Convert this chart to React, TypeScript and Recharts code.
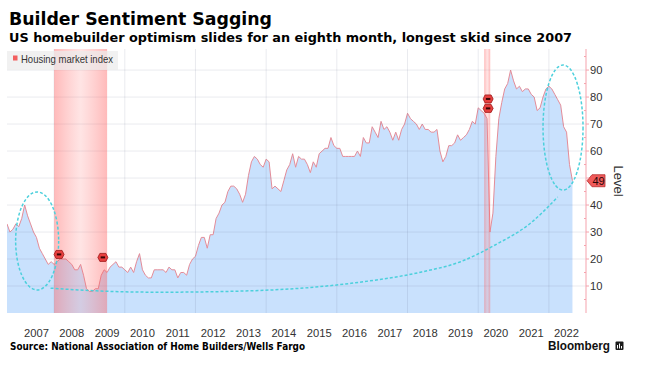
import React from 'react';
import {
  ComposedChart,
  Area,
  Line,
  XAxis,
  YAxis,
  ReferenceLine,
  ReferenceArea,
  ReferenceDot,
} from 'recharts';

// ---- Data: NAHB/Wells Fargo Housing Market Index, monthly, Aug 2006 - Aug 2022
const startYear = 2006;
const startMonth = 8;
const hmi2006 = [33, 30, 31, 33, 32];
const hmi2007 = [35, 40, 36, 33, 30, 28, 24, 22, 20, 18, 19, 18];
const hmi2008 = [19, 20, 20, 20, 19, 18, 16, 16, 18, 14, 9, 8];
const hmi2009 = [8, 9, 9, 14, 16, 15, 17, 18, 19, 17, 17, 16];
const hmi2010 = [15, 17, 15, 19, 22, 16, 14, 13, 13, 16, 16, 16];
const hmi2011 = [16, 15, 17, 16, 16, 13, 15, 15, 14, 18, 20, 21];
const hmi2012 = [25, 28, 28, 24, 29, 29, 35, 37, 40, 41, 45, 47];
const hmi2013 = [47, 46, 44, 41, 44, 51, 56, 58, 57, 55, 54, 57];
const hmi2014 = [56, 46, 47, 46, 45, 49, 53, 55, 59, 54, 58, 57];
const hmi2015 = [57, 55, 52, 56, 54, 59, 60, 61, 61, 65, 62, 61];
const hmi2016 = [61, 58, 58, 58, 58, 58, 60, 58, 65, 63, 63, 69];
const hmi2017 = [67, 65, 71, 68, 69, 67, 64, 67, 64, 68, 70, 74];
const hmi2018 = [72, 71, 70, 68, 70, 68, 68, 67, 67, 68, 60, 56];
const hmi2019 = [58, 62, 62, 63, 66, 64, 65, 66, 68, 71, 70, 76];
const hmi2020 = [75, 74, 72, 30, 37, 58, 72, 78, 83, 85, 90, 86];
const hmi2021 = [83, 84, 82, 83, 83, 81, 80, 75, 76, 80, 83, 84];
const hmi2022 = [83, 81, 79, 77, 69, 67, 55, 49];

const housingIndex = [
  ...hmi2006, ...hmi2007, ...hmi2008, ...hmi2009, ...hmi2010, ...hmi2011,
  ...hmi2012, ...hmi2013, ...hmi2014, ...hmi2015, ...hmi2016, ...hmi2017,
  ...hmi2018, ...hmi2019, ...hmi2020, ...hmi2021, ...hmi2022,
];

// month-end dates as decimal years
const chartData = housingIndex.map((v, i) => ({ t: startYear + (startMonth + i) / 12, v }));

const yearLabels = [2007, 2008, 2009, 2010, 2011, 2012, 2013, 2014, 2015, 2016, 2017, 2018, 2019, 2020, 2021, 2022];
const xTicks = yearLabels.map((y) => y + 0.5);
const gridYears = [2008, 2010, 2012, 2014, 2016, 2018, 2020, 2022];
const gridLevels = [10, 20, 30, 40, 50, 60, 70, 80, 90];
const yTicks = [5, 10, 15, 20, 25, 30, 35, 40, 45, 50, 55, 60, 65, 70, 75, 80, 85, 90, 95];
const hiddenTickLabels = [50];
const latestValue = 49;

const recessions = [
  { from: 2008.0, to: 2009.5 },
  { from: 2020.17, to: 2020.34 },
];

const events = [
  { t: 2008.14, v: 21.7 },
  { t: 2009.38, v: 20.6 },
  { t: 2020.28, v: 79.3 },
  { t: 2020.28, v: 75.8 },
];

const highlightCircles = [
  { t: 2007.52, v: 26.7, rx: 21.5, ry: 49 },
  { t: 2022.4, v: 68.7, rx: 20, ry: 62.5 },
];

const swoosh = [
  { t: 2007.9, v: 9.2 },
  { t: 2009.2, v: 8.2 },
  { t: 2011.0, v: 7.7 },
  { t: 2013.5, v: 8.2 },
  { t: 2016.4, v: 11.0 },
  { t: 2018.4, v: 15.2 },
  { t: 2019.5, v: 19.0 },
  { t: 2020.45, v: 25.0 },
  { t: 2021.5, v: 33.5 },
  { t: 2022.25, v: 43.0 },
];

const CYAN = '#4cd0dc';
const AXIS_PINK = '#f5a3ad';
const TEXT = '#333333';

const RightTick = (props: any) => {
  const { x, y, payload } = props;
  const axisX = x - 5;
  const v = payload.value;
  const major = v % 10 === 0;
  if (major) {
    return (
      <g>
        <line x1={axisX} x2={axisX + 3} y1={y} y2={y} stroke={AXIS_PINK} strokeWidth={1} />
        {hiddenTickLabels.includes(v) ? null : (
          <text x={axisX + 4} y={y} dy="0.35em" fontSize={11.2} fill={TEXT} fontFamily="Liberation Sans, Arial, sans-serif">
            {v}
          </text>
        )}
      </g>
    );
  }
  return <line x1={axisX - 2} x2={axisX} y1={y} y2={y} stroke={AXIS_PINK} strokeWidth={1} />;
};

const EventMarker = (props: any) => {
  const { cx, cy } = props;
  if (cx == null || cy == null) return null;
  return (
    <g transform={`translate(${cx},${cy})`}>
      <polygon points="-5,0 -3,-4 3,-4 5,0 3,4 -3,4" fill="#e8403f" stroke="#9c1616" strokeWidth={0.8} />
      <rect x={-2.2} y={-1} width={4.4} height={2} fill="#3a0606" />
    </g>
  );
};

const Ellipse = (rx: number, ry: number) => (props: any) => {
  const { cx, cy } = props;
  if (cx == null || cy == null) return null;
  return (
    <ellipse cx={cx} cy={cy} rx={rx} ry={ry} fill="none" stroke={CYAN} strokeWidth={1.5} strokeDasharray="3 2" />
  );
};

const BadgeLabel = (props: any) => {
  const vb = props.viewBox || {};
  const ax = (vb.x || 0) + (vb.width || 0);
  const y = vb.y || 0;
  return (
    <g>
      <polygon
        points={`${ax + 1},${y} ${ax + 6},${y - 6} ${ax + 19},${y - 6} ${ax + 19},${y + 6} ${ax + 6},${y + 6}`}
        fill="#f05a5a"
        stroke="#b53030"
        strokeWidth={0.8}
      />
      <text x={ax + 12.5} y={y} dy="0.36em" textAnchor="middle" fontSize={11} fill="#2a0808" fontFamily="Liberation Sans, Arial, sans-serif">
        {latestValue}
      </text>
    </g>
  );
};

export default function App() {
  return (
    <div style={{ position: 'absolute', left: 0, top: 0, width: 663, height: 369, background: '#fff' }}>
      <ComposedChart
        width={663}
        height={369}
        data={chartData}
        margin={{ top: 49, right: 0, bottom: 36, left: 7 }}
      >
        <defs>
          <linearGradient id="recessionGrad" x1="0" y1="0" x2="1" y2="0">
            <stop offset="0%" stopColor="#ff5a5a" stopOpacity={0.42} />
            <stop offset="50%" stopColor="#ff7a7a" stopOpacity={0.2} />
            <stop offset="100%" stopColor="#ff5a5a" stopOpacity={0.42} />
          </linearGradient>
        </defs>
        <XAxis
          dataKey="t"
          type="number"
          domain={[2006.667, 2023.05]}
          allowDataOverflow
          ticks={xTicks}
          interval={0}
          tickFormatter={(t: number) => String(Math.floor(t))}
          axisLine={false}
          tickLine={false}
          tickSize={0}
          tickMargin={16}
          height={20}
          tick={{ fontSize: 11.2, fill: TEXT, fontFamily: 'Liberation Sans, Arial, sans-serif' }}
        />
        <YAxis
          yAxisId={0}
          orientation="right"
          type="number"
          domain={[0, 97.8]}
          allowDataOverflow
          ticks={yTicks}
          interval={0}
          width={77}
          axisLine={{ stroke: AXIS_PINK }}
          tickLine={false}
          tickSize={3}
          tickMargin={2}
          tick={<RightTick />}
        />
        <Area
          dataKey="v"
          type="linear"
          stroke="#e48c98"
          strokeWidth={1}
          fill="#c9e1fd"
          fillOpacity={1}
          dot={false}
          activeDot={false}
          isAnimationActive={false}
          zIndex={100}
        />
        {gridLevels.map((lv) => (
          <ReferenceLine key={`h${lv}`} y={lv} stroke="rgba(90,100,130,0.13)" strokeWidth={1} zIndex={150} />
        ))}
        {gridYears.map((yr) => (
          <ReferenceLine key={`v${yr}`} x={yr} stroke="rgba(90,100,130,0.13)" strokeWidth={1} zIndex={150} />
        ))}
        {recessions.map((r, i) => (
          <ReferenceArea key={`r${i}`} x1={r.from} x2={r.to} fill="url(#recessionGrad)" fillOpacity={1} stroke="none" zIndex={200} />
        ))}
        <Line
          data={swoosh}
          dataKey="v"
          type="monotone"
          stroke={CYAN}
          strokeWidth={1.5}
          strokeDasharray="3 2"
          dot={false}
          activeDot={false}
          isAnimationActive={false}
          zIndex={400}
        />
        {highlightCircles.map((c, i) => (
          <ReferenceDot key={`c${i}`} x={c.t} y={c.v} r={1} shape={Ellipse(c.rx, c.ry)} zIndex={600} />
        ))}
        {events.map((e, i) => (
          <ReferenceDot key={`e${i}`} x={e.t} y={e.v} r={1} shape={<EventMarker />} zIndex={650} />
        ))}
        <ReferenceLine y={latestValue} stroke="none" label={<BadgeLabel />} zIndex={700} />
      </ComposedChart>

      <svg width={663} height={369} style={{ position: 'absolute', left: 0, top: 0, pointerEvents: 'none' }}>
        <text x={9} y={25} fontSize={17.3} fontWeight="bold" fill="#000" fontFamily="DejaVu Sans, Verdana, sans-serif" textLength={263} lengthAdjust="spacingAndGlyphs">
          Builder Sentiment Sagging
        </text>
        <text x={9} y={41.7} fontSize={12.6} fontWeight="bold" fill="#000" fontFamily="DejaVu Sans, Verdana, sans-serif" textLength={563} lengthAdjust="spacingAndGlyphs">
          US homebuilder optimism slides for an eighth month, longest skid since 2007
        </text>
        <rect x={7} y={51} width={111} height={19} fill="rgba(236,236,236,0.72)" />
        <rect x={13} y={55.5} width={4.5} height={5} fill="#f25f5f" />
        <text x={21} y={62.5} fontSize={10.5} fill={TEXT} fontFamily="Liberation Sans, Arial, sans-serif" textLength={92} lengthAdjust="spacingAndGlyphs">
          Housing market index
        </text>
        <text x={618} y={181} fontSize={13} fill={TEXT} textAnchor="middle" dominantBaseline="central" fontFamily="Liberation Sans, Arial, sans-serif" transform="rotate(90 618 181)">
          Level
        </text>
        <text x={10} y={350.3} fontSize={9.6} fontWeight="bold" fill="#000" fontFamily="DejaVu Sans, Verdana, sans-serif" textLength={295} lengthAdjust="spacingAndGlyphs">
          Source: National Association of Home Builders/Wells Fargo
        </text>
        <text x={548} y={349.5} fontSize={12} fontWeight="bold" fill="#111" fontFamily="Liberation Sans, Arial, sans-serif" textLength={62} lengthAdjust="spacingAndGlyphs">
          Bloomberg
        </text>
        <rect x={615.5} y={341.5} width={8} height={8.5} rx={1} fill="#1a1a1a" />
        <line x1={617.5} x2={617.5} y1={345} y2={348.5} stroke="#fff" strokeWidth={1} />
        <line x1={619.5} x2={619.5} y1={343.5} y2={348.5} stroke="#fff" strokeWidth={1} />
        <line x1={621.5} x2={621.5} y1={346} y2={348.5} stroke="#fff" strokeWidth={1} />
      </svg>
    </div>
  );
}
